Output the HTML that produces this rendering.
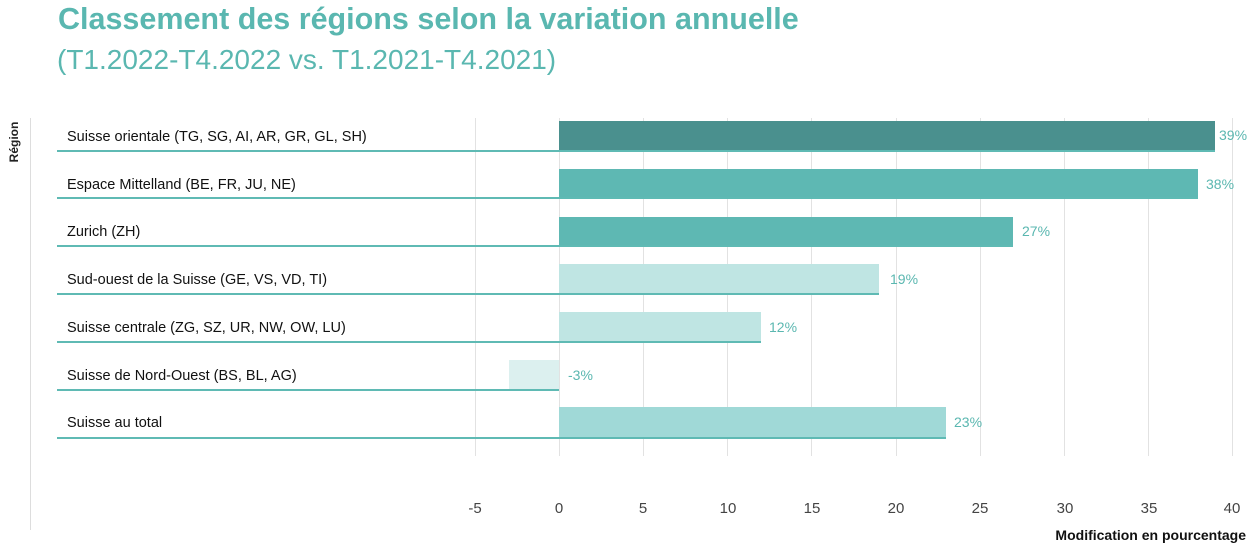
<!DOCTYPE html>
<html><head><meta charset="utf-8"><style>
body{margin:0;background:#fff;width:1258px;height:550px;overflow:hidden;font-family:"Liberation Sans",sans-serif}
</style></head><body>
<svg width="1258" height="550" xmlns="http://www.w3.org/2000/svg" font-family="Liberation Sans, sans-serif">
<text x="58" y="29" font-size="30.5" font-weight="bold" fill="#5ab7b0">Classement des régions selon la variation annuelle</text>
<text x="57" y="69" font-size="28" fill="#5ab7b0">(T1.2022-T4.2022 vs. T1.2021-T4.2021)</text>
<line x1="30.5" y1="118" x2="30.5" y2="530" stroke="#ddd"/>
<text transform="translate(18,142) rotate(-90)" text-anchor="middle" font-size="12" font-weight="bold" fill="#222">Région</text>
<g stroke="#e2e2e2" stroke-width="1">
<line x1="475.5" y1="118" x2="475.5" y2="456"/><line x1="559.5" y1="118" x2="559.5" y2="456"/>
<line x1="643.5" y1="118" x2="643.5" y2="456"/><line x1="727.5" y1="118" x2="727.5" y2="456"/>
<line x1="811.5" y1="118" x2="811.5" y2="456"/><line x1="896.5" y1="118" x2="896.5" y2="456"/>
<line x1="980.5" y1="118" x2="980.5" y2="456"/><line x1="1064.5" y1="118" x2="1064.5" y2="456"/>
<line x1="1148.5" y1="118" x2="1148.5" y2="456"/><line x1="1232.5" y1="118" x2="1232.5" y2="456"/>
</g>
<g font-size="14.5" fill="#111">
<text x="67" y="141">Suisse orientale (TG, SG, AI, AR, GR, GL, SH)</text>
<text x="67" y="189">Espace Mittelland (BE, FR, JU, NE)</text>
<text x="67" y="236">Zurich (ZH)</text>
<text x="67" y="284">Sud-ouest de la Suisse (GE, VS, VD, TI)</text>
<text x="67" y="332">Suisse centrale (ZG, SZ, UR, NW, OW, LU)</text>
<text x="67" y="380">Suisse de Nord-Ouest (BS, BL, AG)</text>
<text x="67" y="427">Suisse au total</text>
</g>
<rect x="559" y="121" width="656" height="30" fill="#4a908e"/>
<rect x="559" y="169" width="639" height="30" fill="#5eb8b3"/>
<rect x="559" y="217" width="454" height="30" fill="#5eb8b3"/>
<rect x="559" y="264" width="320" height="30" fill="#bfe5e3"/>
<rect x="559" y="312" width="202" height="30" fill="#bfe5e3"/>
<rect x="509" y="360" width="50" height="30" fill="#dcf0ef"/>
<rect x="559" y="407" width="387" height="30" fill="#a0d9d7"/>
<g stroke="#5fbab4" stroke-width="2">
<line x1="57" y1="151" x2="1215" y2="151"/>
<line x1="57" y1="198" x2="1198" y2="198"/>
<line x1="57" y1="246" x2="1013" y2="246"/>
<line x1="57" y1="294" x2="879" y2="294"/>
<line x1="57" y1="342" x2="761" y2="342"/>
<line x1="57" y1="390" x2="559" y2="390"/>
<line x1="57" y1="438" x2="946" y2="438"/>
</g>
<g font-size="14" fill="#5ab7b0">
<text x="1219" y="140">39%</text><text x="1206" y="189">38%</text><text x="1022" y="236">27%</text>
<text x="890" y="284">19%</text><text x="769" y="332">12%</text><text x="568" y="380">-3%</text><text x="954" y="427">23%</text>
</g>
<g font-size="15" fill="#444" text-anchor="middle">
<text x="475" y="513">-5</text><text x="559" y="513">0</text><text x="643" y="513">5</text><text x="728" y="513">10</text>
<text x="812" y="513">15</text><text x="896" y="513">20</text><text x="980" y="513">25</text><text x="1065" y="513">30</text>
<text x="1149" y="513">35</text><text x="1232" y="513">40</text>
</g>
<text x="1246" y="540" text-anchor="end" font-size="14" font-weight="bold" fill="#111">Modification en pourcentage</text>
</svg>
</body></html>
